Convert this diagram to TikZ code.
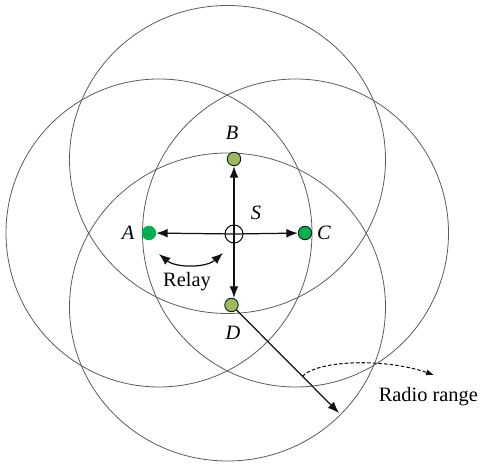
\documentclass[tikz,border=0pt]{standalone}
\usepackage{fontspec}
\setmainfont{Liberation Serif}
\usetikzlibrary{arrows.meta, positioning, calc}
\definecolor{ringgray}{HTML}{5A5A5A}
\definecolor{olivenode}{HTML}{9BBB59}
\definecolor{greennode}{HTML}{00B050}
\definecolor{linkblack}{HTML}{111111}

\begin{document}
\begin{tikzpicture}[
    x=0.02cm, y=-0.02cm,
    every node/.style={font=\fontsize{11.6}{14}\selectfont},
    lab/.style={font=\fontsize{11.6}{14}\selectfont\itshape},
    ring/.style={draw=ringgray, line width=0.45pt},
    relay/.style={circle, draw=linkblack, line width=0.5pt, fill=olivenode,
                  minimum size=0.27cm, inner sep=0pt},
    link/.style={linkblack, line width=0.7pt, -{Latex[length=6.5pt, width=5pt]}},
    hop/.style={linkblack, line width=0.6pt, dashed, dash pattern=on 2pt off 1.2pt,
                -{Latex[length=4.5pt, width=3.5pt]}},
]
\useasboundingbox (0,0) rectangle (485,465);

% ---------------------------------------------------------------- radio ranges
\draw[ring] (227.5,159.5) ellipse [x radius=158, y radius=154];
\draw[ring] (227.5,307.0) ellipse [x radius=158, y radius=154];
\draw[ring] (159.0,233.0) ellipse [x radius=153, y radius=154];
\draw[ring] (295.5,233.0) ellipse [x radius=153, y radius=154];

% ---------------------------------------------------------------- the nodes
\node[circle, draw=linkblack, line width=0.6pt, fill=white,
      minimum size=0.36cm, inner sep=0pt] (S) at (234,234) {};
\node[relay] (B) at (234,159) {};
\node[relay] (D) at (231.5,305) {};
\node[relay, fill=greennode, draw=greennode] (A) at (149,233) {};
\node[relay, fill=greennode] (C) at (305,233) {};

\node[lab] (labB) at (232,133) {B};
\node[lab] (labA) at (128,233) {A};
\node[lab] (labC) at (324,233) {C};
\node[lab] (labD) at (233,333) {D};
\node[lab] (labS) at (256,213) {S};

% source to the four relays
\foreach \n in {A, B, C}{
    \draw[link] (S.center) -- (\n);
}
\draw[link] (S.center) -- (S.center |- D.north);

% ---------------------------------------------------------------- relay
\coordinate (relayL) at (159,254);
\coordinate (relayR) at (223,253);
\draw[linkblack, line width=0.7pt, {Latex[length=6.5pt, width=5pt]}-{Latex[length=6.5pt, width=5pt]}]
    (relayL) .. controls (176,268) and (206,268) .. (relayR);
\node (relayText) at (187,282) {Relay};

% ---------------------------------------------------------------- radio range
\coordinate (rim) at (339,413);
\draw[link] (D) -- (rim);
\coordinate (tap) at ($(D)!0.66!(rim)$);
\coordinate (rangeTip) at (434,375);
\draw[hop] (tap) .. controls (318,360) and (385,358) .. (rangeTip);
\node[anchor=east] (rangeText) at (484,397) {Radio range};
\end{tikzpicture}
\end{document}
